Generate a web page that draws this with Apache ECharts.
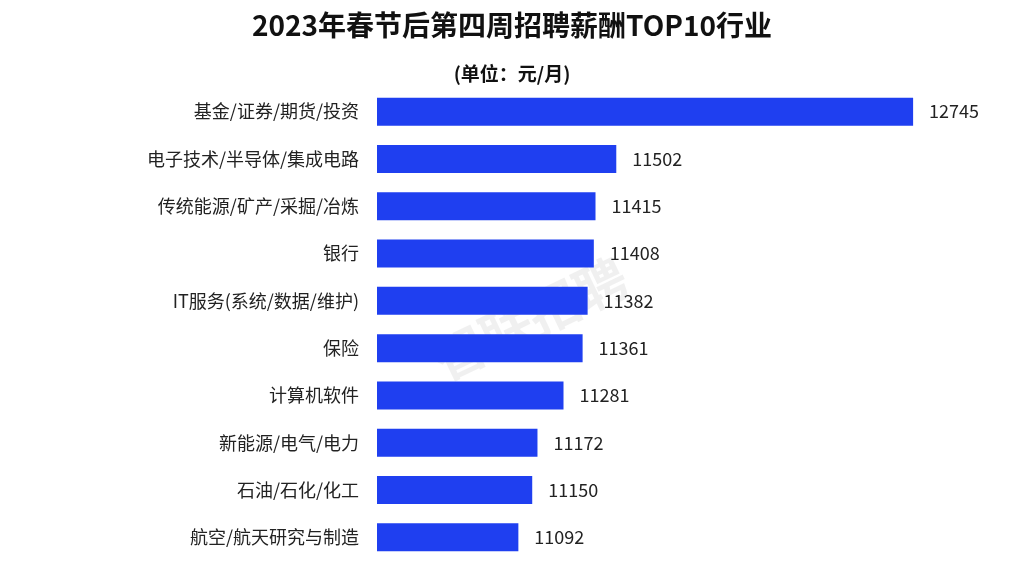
<!DOCTYPE html>
<html><head><meta charset="utf-8">
<script src="https://cdn.jsdelivr.net/npm/echarts@6/dist/echarts.min.js"></script>
<style>html,body{margin:0;padding:0;background:#fff}#c{width:1024px;height:562px}</style>
</head><body><div id="c"></div>
<script>
const categories = ['基金/证券/期货/投资','电子技术/半导体/集成电路','传统能源/矿产/采掘/冶炼','银行','IT服务(系统/数据/维护)','保险','计算机软件','新能源/电气/电力','石油/石化/化工','航空/航天研究与制造'];
const values = [12745,11502,11415,11408,11382,11361,11281,11172,11150,11092];
const chart = echarts.init(document.getElementById('c'));
const F = '"Noto Sans CJK SC", sans-serif';
chart.setOption({
  title:[{text:'2023年春节后第四周招聘薪酬TOP10行业',left:'center',top:6,textStyle:{fontSize:28,fontWeight:'bold',color:'#111',fontFamily:F}},
         {text:'(单位：元/月)',left:'center',top:59,textStyle:{fontSize:19,fontWeight:'bold',color:'#111',fontFamily:F}}],
  graphic:[{type:'text',left:425,top:250,rotation:Math.PI/7,style:{text:'智联招聘',fontSize:52,fill:'rgba(0,0,0,0.06)',fontFamily:F,fontWeight:'bold'}}],
  grid:{left:377,right:50,top:88,bottom:1},
  xAxis:{type:'value',min:10500,max:13000,show:false},
  yAxis:{type:'category',data:categories,inverse:true,axisLine:{show:false},axisTick:{show:false},
    axisLabel:{fontSize:18,color:'#222',fontFamily:F,margin:18}},
  series:[{type:'bar',data:values,barWidth:28,itemStyle:{color:'#1f3ff0'},
    label:{show:true,position:'right',distance:16,fontSize:18,color:'#222',fontFamily:F}}]
});
</script></body></html>
